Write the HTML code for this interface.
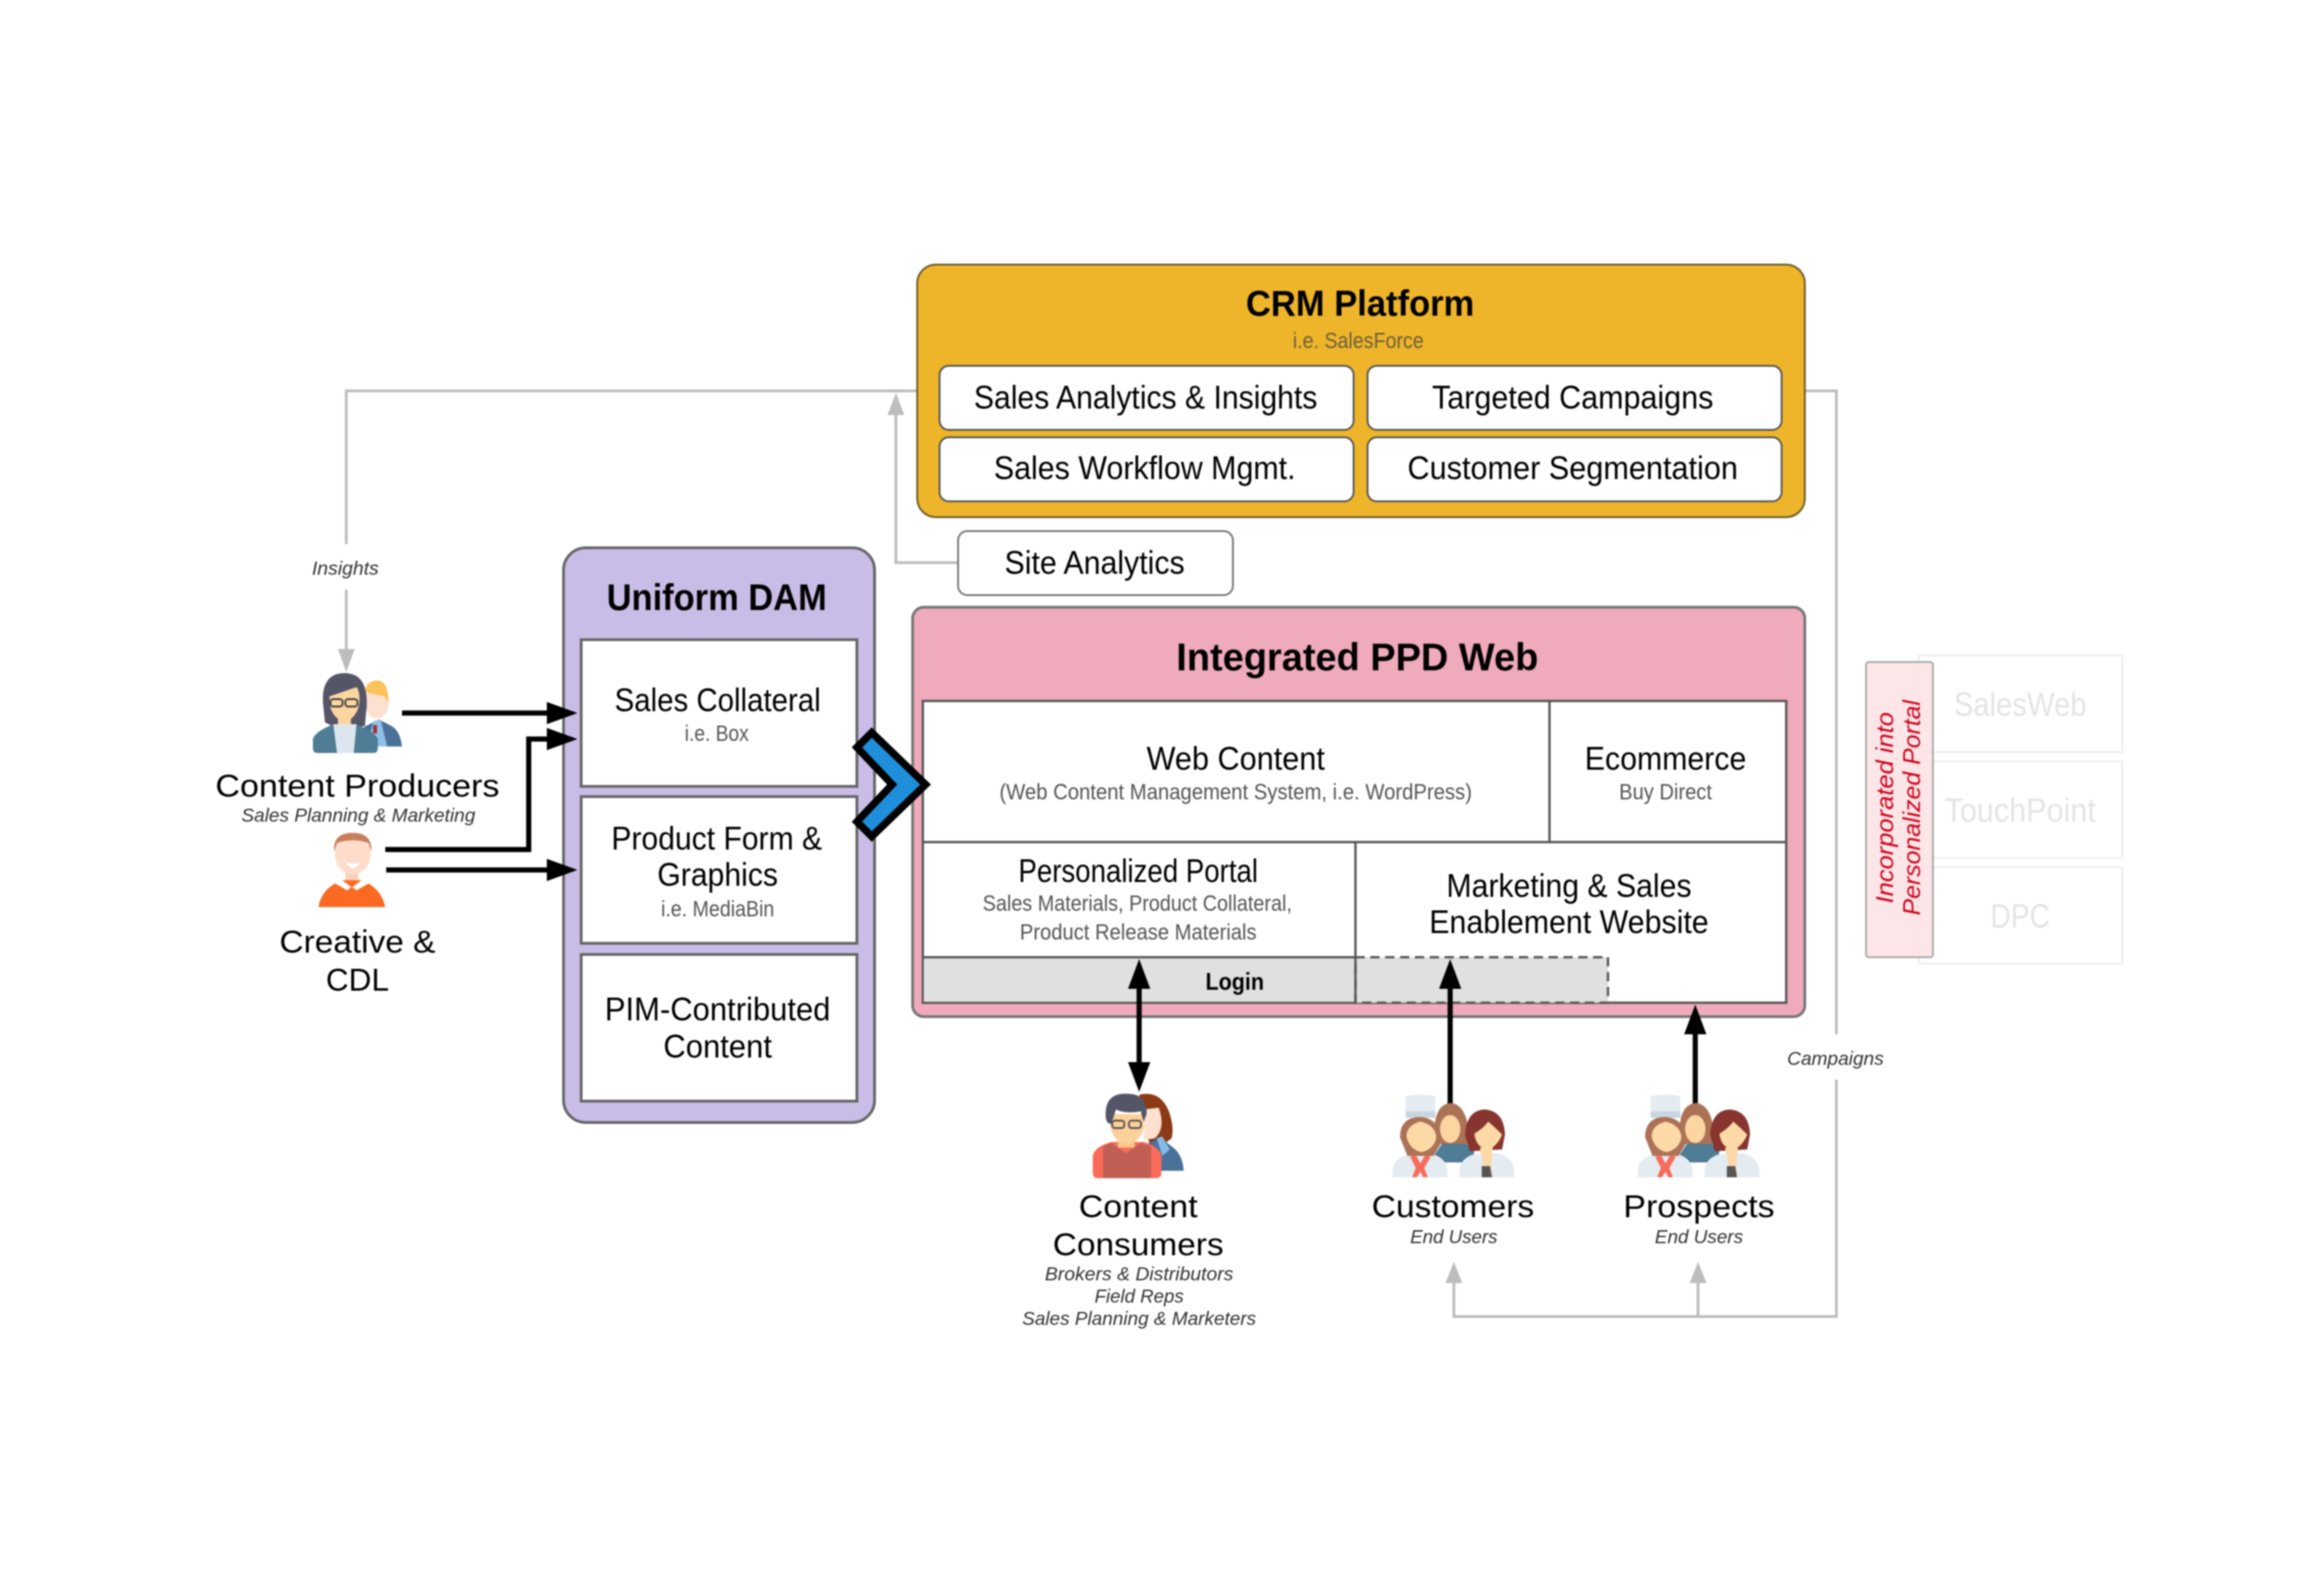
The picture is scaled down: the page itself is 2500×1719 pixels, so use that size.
<!DOCTYPE html>
<html><head><meta charset="utf-8"><style>
html,body{margin:0;padding:0;background:#fff;width:2500px;height:1719px;overflow:hidden}
svg{display:block;filter:blur(.7px)}
text{font-family:"Liberation Sans",sans-serif;text-anchor:middle;fill:#000}
.b{font-weight:bold}.i{font-style:italic;fill:#333}.s{fill:#555}
</style></head><body>
<svg xmlns="http://www.w3.org/2000/svg" width="2500" height="1719" viewBox="0 0 2500 1719">
<rect width="2500" height="1719" fill="#fff"/>

<!-- gray connectors -->
<g fill="none" stroke="#bdbdbd" stroke-width="3">
<path d="M987 421H373V586M373 635V702"/>
<path d="M1032 606H965V440"/>
<path d="M1943 421H1978V1114M1978 1163V1418H1566V1378M1829 1418V1378"/>
</g>
<g fill="#bdbdbd">
<polygon points="373,724 364,699 382,699"/>
<polygon points="965,423 956,447 974,447"/>
<polygon points="1566,1359 1557,1382 1575,1382"/>
<polygon points="1829,1359 1820,1382 1838,1382"/>
</g>
<text x="372" y="619" font-size="20" class="i" textLength="72" lengthAdjust="spacingAndGlyphs">Insights</text>
<text x="1977" y="1147" font-size="20" class="i" textLength="104" lengthAdjust="spacingAndGlyphs">Campaigns</text>

<!-- CRM -->
<rect x="988" y="285" width="956" height="272" rx="20" fill="#efb52a" stroke="#6a5a2a" stroke-width="2"/>
<g fill="#fff" stroke="#555" stroke-width="2">
<rect x="1012" y="394" width="446" height="69" rx="10"/>
<rect x="1473" y="394" width="446" height="69" rx="10"/>
<rect x="1012" y="471" width="446" height="69" rx="10"/>
<rect x="1473" y="471" width="446" height="69" rx="10"/>
</g>
<text x="1465" y="340" font-size="39" class="b" textLength="246" lengthAdjust="spacingAndGlyphs">CRM Platform</text>
<text x="1463" y="375" font-size="24" style="fill:#6a5f3c" textLength="141" lengthAdjust="spacingAndGlyphs">i.e. SalesForce</text>
<text x="1234" y="440" font-size="35" textLength="370" lengthAdjust="spacingAndGlyphs">Sales Analytics &amp; Insights</text>
<text x="1694" y="440" font-size="35" textLength="303" lengthAdjust="spacingAndGlyphs">Targeted Campaigns</text>
<text x="1233" y="516" font-size="35" textLength="325" lengthAdjust="spacingAndGlyphs">Sales Workflow Mgmt.</text>
<text x="1694" y="516" font-size="35" textLength="356" lengthAdjust="spacingAndGlyphs">Customer Segmentation</text>

<!-- Site Analytics -->
<rect x="1032" y="572" width="296" height="69" rx="10" fill="#fff" stroke="#777" stroke-width="2"/>
<text x="1179" y="618" font-size="35" textLength="194" lengthAdjust="spacingAndGlyphs">Site Analytics</text>

<!-- PPD -->
<rect x="983" y="654" width="961" height="441" rx="12" fill="#efaabc" stroke="#777" stroke-width="3"/>
<rect x="994" y="755" width="930" height="325" fill="#fff" stroke="#555" stroke-width="2.5"/>
<rect x="995" y="1031" width="465" height="48" fill="#e0e0e0"/>
<rect x="1460" y="1031" width="272" height="49" fill="#e0e0e0" stroke="#555" stroke-width="2.5" stroke-dasharray="10 6"/>
<path d="M994 907H1924M1669 755V907M1460 907V1080M994 1031H1460" fill="none" stroke="#555" stroke-width="2.5"/>
<text x="1462" y="722" font-size="42" class="b" textLength="390" lengthAdjust="spacingAndGlyphs">Integrated PPD Web</text>
<text x="1331" y="829" font-size="35" textLength="192" lengthAdjust="spacingAndGlyphs">Web Content</text>
<text x="1331" y="861" font-size="24" class="s" textLength="509" lengthAdjust="spacingAndGlyphs">(Web Content Management System, i.e. WordPress)</text>
<text x="1794" y="829" font-size="35" textLength="174" lengthAdjust="spacingAndGlyphs">Ecommerce</text>
<text x="1794" y="861" font-size="24" class="s" textLength="100" lengthAdjust="spacingAndGlyphs">Buy Direct</text>
<text x="1226" y="950" font-size="35" textLength="258" lengthAdjust="spacingAndGlyphs">Personalized Portal</text>
<text x="1225" y="981" font-size="24" class="s" textLength="333" lengthAdjust="spacingAndGlyphs">Sales Materials, Product Collateral,</text>
<text x="1226" y="1012" font-size="24" class="s" textLength="255" lengthAdjust="spacingAndGlyphs">Product Release Materials</text>
<text x="1690" y="966" font-size="35" textLength="264" lengthAdjust="spacingAndGlyphs">Marketing &amp; Sales</text>
<text x="1690" y="1005" font-size="35" textLength="301" lengthAdjust="spacingAndGlyphs">Enablement Website</text>
<text x="1330" y="1066" font-size="26" class="b" textLength="63" lengthAdjust="spacingAndGlyphs">Login</text>

<!-- DAM -->
<rect x="607" y="590" width="335" height="619" rx="24" fill="#c9bce6" stroke="#666" stroke-width="3"/>
<g fill="#fff" stroke="#666" stroke-width="3">
<rect x="626" y="689" width="297" height="158"/>
<rect x="626" y="858" width="297" height="158"/>
<rect x="626" y="1028" width="297" height="158"/>
</g>
<text x="772" y="657" font-size="40" class="b" textLength="237" lengthAdjust="spacingAndGlyphs">Uniform DAM</text>
<text x="773" y="766" font-size="35" textLength="222" lengthAdjust="spacingAndGlyphs">Sales Collateral</text>
<text x="772" y="798" font-size="24" class="s" textLength="69" lengthAdjust="spacingAndGlyphs">i.e. Box</text>
<text x="772" y="915" font-size="35" textLength="227" lengthAdjust="spacingAndGlyphs">Product Form &amp;</text>
<text x="773" y="954" font-size="35" textLength="130" lengthAdjust="spacingAndGlyphs">Graphics</text>
<text x="773" y="987" font-size="24" class="s" textLength="122" lengthAdjust="spacingAndGlyphs">i.e. MediaBin</text>
<text x="773" y="1099" font-size="35" textLength="243" lengthAdjust="spacingAndGlyphs">PIM-Contributed</text>
<text x="773" y="1139" font-size="35" textLength="117" lengthAdjust="spacingAndGlyphs">Content</text>

<!-- chevron -->
<polygon points="939,789 997,845 939,901 923,885 961,845 923,805" fill="#1f8fdc" stroke="#000" stroke-width="8" stroke-linejoin="miter"/>

<!-- black arrows -->
<g fill="none" stroke="#000" stroke-width="5.5">
<path d="M433 768H595"/>
<path d="M415 915H569.500V796H595"/>
<path d="M416 937H595"/>
<path d="M1227 1060V1150"/>
<path d="M1562 1060V1190"/>
<path d="M1826 1110V1190"/>
</g>
<g fill="#000">
<polygon points="622,768 589,756 589,780"/>
<polygon points="622,796 589,784 589,808"/>
<polygon points="622,937 589,925 589,949"/>
<polygon points="1227,1033 1215,1065 1239,1065"/>
<polygon points="1227,1176 1215,1144 1239,1144"/>
<polygon points="1562,1033 1550,1065 1574,1065"/>
<polygon points="1826,1082 1814,1114 1838,1114"/>
</g>

<!-- Content producers icon -->
<g>
<path d="M433 804L390 804L392 783L408 775L420 781Q431 786 433 804Z" fill="#4a7298"/>
<polygon points="402,777 410,775 417,804 396,804" fill="#8fc0e8"/>
<polygon points="402,781 406,781 406,790 402,790" fill="#a02c2c"/>
<ellipse cx="406" cy="755" rx="13" ry="19" fill="#fde0d0"/>
<path d="M393 745Q395 732 408 733Q419 735 418 757L414 750Q402 748 393 745Z" fill="#fcc35c"/>
<path d="M348 758C346 732 358 725 371 725C385 725 396 733 395 760L393 782L380 784L362 784L350 778Z" fill="#555568"/>
<path d="M355 750Q370 745 384 740Q388 745 387 757Q385 773 371 778Q357 773 355 757Z" fill="#fcd5a0"/>
<rect x="356" y="753" width="13" height="8" rx="3" fill="none" stroke="#444" stroke-width="2"/>
<rect x="372" y="753" width="13" height="8" rx="3" fill="none" stroke="#444" stroke-width="2"/>
<rect x="364" y="772" width="14" height="12" fill="#fcd5a0"/>
<path d="M337 806V796Q340 787 360 780H382Q403 787 407 796V806Q407 811 402 811H342Q337 811 337 806Z" fill="#4f7d96"/>
<polygon points="359,780 384,780 381,811 363,811" fill="#dde6ee"/>
</g>

<!-- Creative icon -->
<g>
<path d="M343 977Q346 957 368 948H390Q411 957 415 977Z" fill="#fb6a22"/>
<polygon points="366,946 379,956 392,946 398,951 384,959 379,955 374,959 360,951" fill="#fff"/>
<rect x="372" y="934" width="14" height="14" fill="#fbd1ba"/>
<path d="M361 912Q361 898 380 898Q399 898 399 912V924Q396 940 380 942Q364 940 361 924Z" fill="#fedccb"/>
<path d="M360 917Q358 897 380 897Q401 897 400 917L397 908Q380 902 363 908Z" fill="#c97f5c"/>
<path d="M372 928Q380 932 388 928Q384 935 380 935Q376 935 372 928Z" fill="#fff"/>
</g>

<!-- Content consumers icon -->
<g>
<path d="M1227 1179Q1250 1174 1259 1197Q1265 1214 1262 1226L1254 1232L1238 1232Z" fill="#8b3a15"/>
<path d="M1232 1195L1248 1193Q1256 1215 1244 1226L1232 1228Z" fill="#fde0d0"/>
<path d="M1236 1232L1250 1225L1266 1238Q1274 1246 1275 1261H1236Z" fill="#4a7298"/>
<polygon points="1246,1226 1252,1224 1260,1238 1252,1245" fill="#85bbe8"/>
<path d="M1177 1263V1245Q1179 1235 1197 1230H1232Q1249 1235 1251 1245V1263Q1251 1269 1245 1269H1183Q1177 1269 1177 1263Z" fill="#fb6b5a"/>
<path d="M1188 1269V1235L1197 1231L1213 1242L1229 1231L1240 1235V1269Z" fill="#c25f55"/>
<rect x="1204" y="1222" width="18" height="14" fill="#f7c688"/>
<path d="M1196 1200H1232V1214Q1228 1231 1214 1232Q1200 1231 1196 1214Z" fill="#fcd09a"/>
<path d="M1191 1204Q1189 1178 1212 1178Q1236 1177 1235 1200L1232 1208Q1229 1200 1229 1197Q1212 1200 1202 1195Q1199 1205 1197 1210Q1193 1212 1191 1204Z" fill="#555568"/>
<rect x="1198" y="1207" width="13" height="8" rx="3" fill="none" stroke="#555" stroke-width="2"/>
<rect x="1216" y="1207" width="13" height="8" rx="3" fill="none" stroke="#555" stroke-width="2"/>
</g>

<!-- Customers icon -->
<g id="team">
<path d="M1514 1181Q1530 1177 1546 1181V1204H1514Z" fill="#e4ebf1"/>
<rect x="1514" y="1197" width="32" height="7" fill="#c9d5df"/>
<path d="M1545 1244L1553 1232H1580L1588 1240L1586 1252H1547Z" fill="#4f7d96"/>
<path d="M1545 1224Q1544 1189 1563 1188Q1582 1190 1583 1232H1547Z" fill="#ab7256"/>
<ellipse cx="1562" cy="1216" rx="11" ry="15" fill="#fcd5a0"/>
<path d="M1500 1262Q1500 1248 1518 1243H1543Q1559 1248 1559 1262V1268H1500Z" fill="#e4ebf1"/>
<path d="M1508 1225Q1508 1203 1530 1203Q1552 1205 1553 1230L1544 1245H1516Z" fill="#ab7256"/>
<path d="M1515 1224Q1515 1212 1530 1208Q1547 1212 1547 1226Q1544 1238 1531 1241Q1518 1238 1515 1224Z" fill="#fcd9a6"/>
<polygon points="1519,1246 1525,1244 1530,1253 1535,1244 1541,1246 1534,1258 1538,1268 1533,1268 1530,1262 1526,1268 1521,1268 1525,1258" fill="#f56c5a"/>
<path d="M1572 1262Q1572 1248 1588 1243L1613 1242Q1631 1247 1631 1262V1268H1572Z" fill="#e4ebf1"/>
<path d="M1578 1222Q1580 1195 1600 1195Q1620 1197 1621 1222L1618 1238L1583 1240Z" fill="#87352e"/>
<path d="M1588 1221Q1598 1215 1603 1208Q1612 1216 1618 1222Q1612 1236 1602 1238Q1590 1236 1588 1221Z" fill="#fcd9a6"/>
<polygon points="1594,1236 1608,1236 1606,1255 1608,1268 1596,1268 1598,1255" fill="#fcd9a6"/>
<polygon points="1596,1256 1605,1256 1607,1268 1596,1268" fill="#555"/>
</g>
<use href="#team" x="264" y="0"/>

<!-- person labels -->
<text x="385" y="858" font-size="34" textLength="306" lengthAdjust="spacingAndGlyphs">Content Producers</text>
<text x="386" y="885" font-size="20" class="i" textLength="252" lengthAdjust="spacingAndGlyphs">Sales Planning &amp; Marketing</text>
<text x="385" y="1026" font-size="34" textLength="168" lengthAdjust="spacingAndGlyphs">Creative &amp;</text>
<text x="385" y="1067" font-size="34" textLength="68" lengthAdjust="spacingAndGlyphs">CDL</text>
<text x="1226" y="1311" font-size="34" textLength="128" lengthAdjust="spacingAndGlyphs">Content</text>
<text x="1226" y="1352" font-size="34" textLength="184" lengthAdjust="spacingAndGlyphs">Consumers</text>
<text x="1227" y="1379" font-size="20" class="i" textLength="203" lengthAdjust="spacingAndGlyphs">Brokers &amp; Distributors</text>
<text x="1227" y="1403" font-size="20" class="i" textLength="96" lengthAdjust="spacingAndGlyphs">Field Reps</text>
<text x="1227" y="1427" font-size="20" class="i" textLength="252" lengthAdjust="spacingAndGlyphs">Sales Planning &amp; Marketers</text>
<text x="1565" y="1311" font-size="34" textLength="175" lengthAdjust="spacingAndGlyphs">Customers</text>
<text x="1566" y="1339" font-size="20" class="i" textLength="94" lengthAdjust="spacingAndGlyphs">End Users</text>
<text x="1830" y="1311" font-size="34" textLength="163" lengthAdjust="spacingAndGlyphs">Prospects</text>
<text x="1830" y="1339" font-size="20" class="i" textLength="95" lengthAdjust="spacingAndGlyphs">End Users</text>

<!-- ghost boxes -->
<g fill="#fff" stroke="#eeeeee" stroke-width="2">
<rect x="2067" y="706" width="219" height="104"/>
<rect x="2067" y="820" width="219" height="104"/>
<rect x="2067" y="934" width="219" height="104"/>
</g>
<text x="2176" y="771" font-size="36" style="fill:#e4e4e6" textLength="143" lengthAdjust="spacingAndGlyphs">SalesWeb</text>
<text x="2176" y="885" font-size="36" style="fill:#e4e4e6" textLength="163" lengthAdjust="spacingAndGlyphs">TouchPoint</text>
<text x="2176" y="999" font-size="36" style="fill:#e4e4e6" textLength="64" lengthAdjust="spacingAndGlyphs">DPC</text>

<!-- incorporated box -->
<rect x="2010" y="713" width="72" height="318" rx="3" fill="#fde3e5" fill-opacity=".88" stroke="#aaa" stroke-width="2"/>
<text transform="translate(2039 870) rotate(-90)" font-size="26" style="fill:#d0021b;font-style:italic" textLength="206" lengthAdjust="spacingAndGlyphs">Incorporated into</text>
<text transform="translate(2068 870) rotate(-90)" font-size="26" style="fill:#d0021b;font-style:italic" textLength="232" lengthAdjust="spacingAndGlyphs">Personalized Portal</text>
</svg>
</body></html>
